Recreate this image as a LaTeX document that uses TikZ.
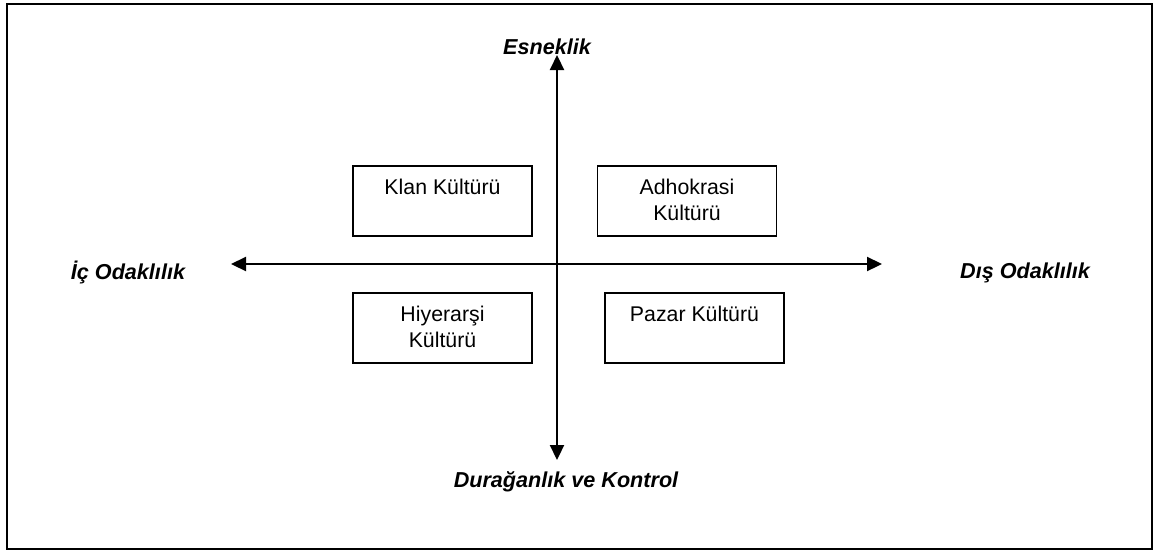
\documentclass[tikz,border=0pt]{standalone}
\usepackage{fontspec}
\setmainfont{Liberation Sans}
\usetikzlibrary{arrows.meta,calc}
\tikzset{
  frame/.style={draw=black, line width=2.6pt},
  axis/.style={draw=black, line width=2.2pt, -{Triangle[length=15pt,width=14pt]}},
  box/.style={draw=black, line width=1.8pt, rectangle, minimum width=179pt, minimum height=70pt, inner sep=0pt},
  boxtext/.style={font=\fontsize{21.3}{26}\selectfont, align=center, anchor=base, inner sep=0pt},
  axislabel/.style={font=\fontsize{21.6}{25}\selectfont\bfseries\itshape, anchor=base, inner sep=0pt}
}
\begin{document}
\begin{tikzpicture}[x=1pt,y=-1pt]
  \useasboundingbox (0,0) rectangle (1155,552);
  \fill[white] (0,0) rectangle (1155,552);
  \draw[frame] (7,4) rectangle (1152,549);
  % axes
  \coordinate (o) at (557,264);
  \coordinate (n) at (557,55);
  \coordinate (s) at (557,460);
  \coordinate (w) at (231,264);
  \coordinate (e) at (882,264);
  \draw[axis] (o) -- (n);
  \draw[axis] (o) -- (s);
  \draw[axis] (o) -- (w);
  \draw[axis] (o) -- (e);
  % axis labels
  \node[axislabel] (esn) at (547,54) {Esneklik};
  \node[axislabel] (dur) at (566,487) {Durağanlık ve Kontrol};
  \node[axislabel] (ic) at (128,279) {İç Odaklılık};
  \node[axislabel] (dis) at (1025,278) {Dış Odaklılık};
  % boxes
  \node[box] (klan) at (442.5,201) {};
  \node[box] (adho) at (687,201) {};
  \node[box] (hiye) at (442.5,328) {};
  \node[box] (pazar) at (694.5,328) {};
  \node[boxtext] (klant) at ($(klan.north)+(0,29)$) {Klan Kültürü};
  \node[boxtext] (adhot) at ($(adho.north)+(0,55)$) {Adhokrasi\\Kültürü};
  \node[boxtext] (hiyet) at ($(hiye.north)+(0,55)$) {Hiyerarşi\\Kültürü};
  \node[boxtext] (pazart) at ($(pazar.north)+(0,29)$) {Pazar Kültürü};
\end{tikzpicture}
\end{document}
